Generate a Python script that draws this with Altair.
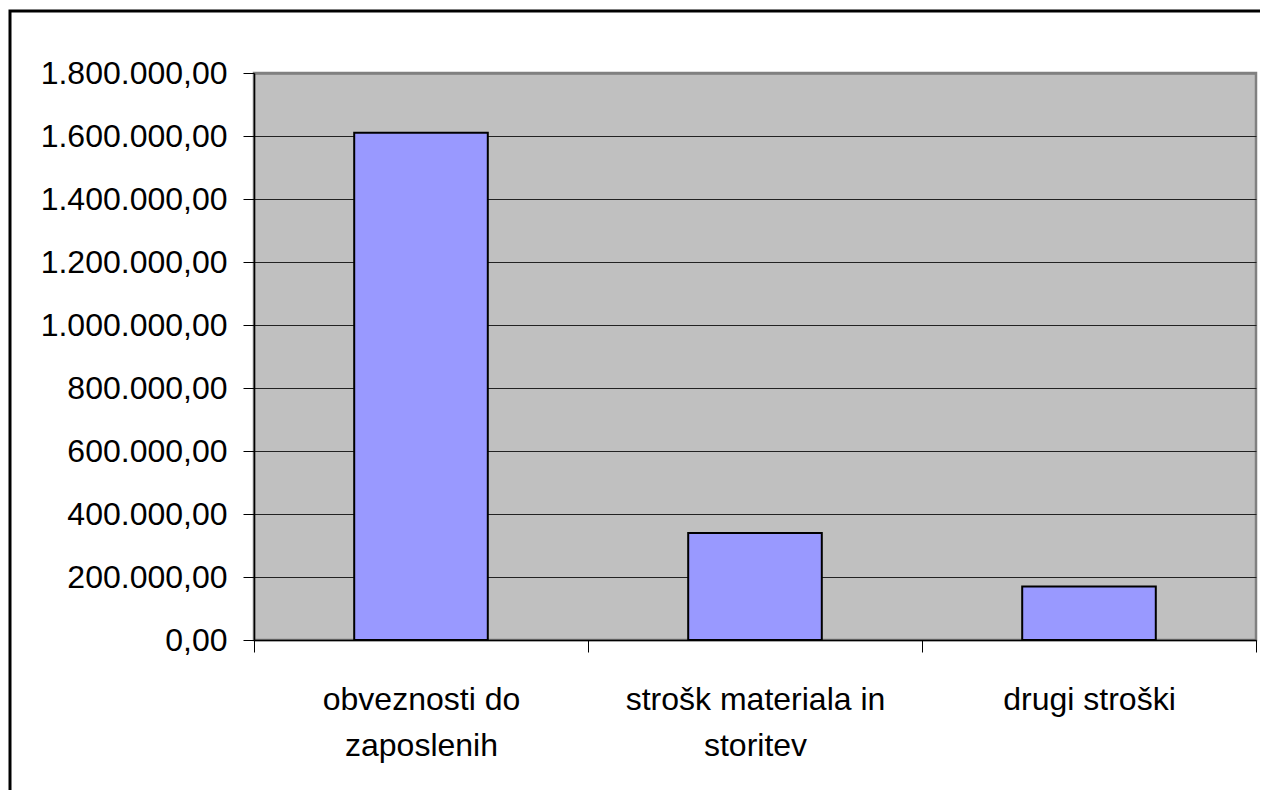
import altair as alt
import pandas as pd

categories = ["obveznosti do\nzaposlenih", "strošk materiala in\nstoritev", "drugi stroški"]
values = [1610000, 340000, 170000]
y_ticks = [0, 200000, 400000, 600000, 800000, 1000000, 1200000, 1400000, 1600000, 1800000]

df = pd.DataFrame({"cat": categories, "val": values})
FONT = "Liberation Sans"
FS = 32

label_expr_y = ("replace(replace(replace(format(datum.value, ',.2f'), regexp(',', 'g'), '#'), "
                "'.', ','), regexp('#', 'g'), '.')")

bars = alt.Chart(df).mark_bar(
    color="#9999FF", stroke="black", strokeWidth=2, width={"band": 0.4}
).encode(
    x=alt.X("cat:N", sort=categories,
            scale=alt.Scale(paddingInner=0, paddingOuter=0),
            axis=alt.Axis(title=None, labelAngle=0, tickBand="extent", tickSize=12,
                          tickColor="black", tickWidth=1, domainColor="black", domainWidth=1.5,
                          labelExpr="split(datum.label, '\\n')", labelFontSize=FS,
                          labelLineHeight=46, labelPadding=32, labelFont=FONT,
                          labelColor="black", labelLimit=0, grid=False)),
    y=alt.Y("val:Q", scale=alt.Scale(domain=[0, 1800000], nice=False),
            axis=alt.Axis(title=None, values=y_ticks, grid=True,
                          gridColor=alt.condition("datum.value == 1800000", alt.value("#808080"), alt.value("#222222")),
                          gridWidth=alt.condition("datum.value == 1800000", alt.value(2.5), alt.value(1.2)),
                          tickSize=11, tickColor="black", tickWidth=1,
                          domainColor="black", domainWidth=1.5,
                          labelPadding=16, labelFontSize=FS, labelFont=FONT,
                          labelColor="black", labelLimit=0, labelExpr=label_expr_y)),
)

frame = alt.Chart(pd.DataFrame({"a": [0]})).mark_rect(
    filled=False, stroke="black", strokeWidth=3
).encode(
    x=alt.value(-244), y=alt.value(-62), x2=alt.value(1300), y2=alt.value(1000)
)

chart = alt.layer(bars, frame).properties(
    width=1002, height=567,
    autosize=alt.AutoSizeParams(type="none"),
    padding={"left": 246, "top": 65, "right": 4, "bottom": 150},
    background="white",
).configure_view(
    fill="#C0C0C0", stroke="#808080", strokeWidth=2.5
)

chart.save("out.html", embed_options={"renderer": "svg", "actions": False})
